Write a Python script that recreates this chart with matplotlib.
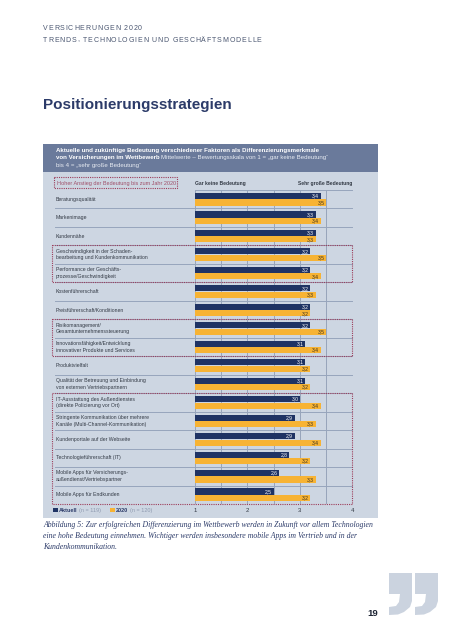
import matplotlib
matplotlib.use("Agg")
import matplotlib.pyplot as plt
from matplotlib.patches import Rectangle, Polygon
import numpy as np

# ---------------- data ----------------
categories = [
    "Beratungsqualität",
    "Markenimage",
    "Kundennähe",
    "Geschwindigkeit in der Schaden-\nbearbeitung und Kundenkommunikation",
    "Performance der Geschäfts-\nprozesse/Geschwindigkeit",
    "Kostenführerschaft",
    "Preisführerschaft/Konditionen",
    "Risikomanagement/\nGesamtunternehmenssteuerung",
    "Innovationsfähigkeit/Entwicklung\ninnovativer Produkte und Services",
    "Produktvielfalt",
    "Qualität der Betreuung und Einbindung\nvon externen Vertriebspartnern",
    "IT-Ausstattung des Außendienstes\n(direkte Policierung vor Ort)",
    "Stringente Kommunikation über mehrere\nKanäle (Multi-Channel-Kommunikation)",
    "Kundenportale auf der Webseite",
    "Technologieführerschaft (IT)",
    "Mobile Apps für Versicherungs-\naußendienst/Vertriebspartner",
    "Mobile Apps für Endkunden",
]
aktuell = [3.4, 3.3, 3.3, 3.2, 3.2, 3.2, 3.2, 3.2, 3.1, 3.1, 3.1, 3.0, 2.9, 2.9, 2.8, 2.6, 2.5]
jahr2020 = [3.5, 3.4, 3.3, 3.5, 3.4, 3.3, 3.2, 3.5, 3.4, 3.2, 3.2, 3.4, 3.3, 3.4, 3.2, 3.3, 3.2]
highlight_groups = [(3, 4), (7, 8), (11, 16)]   # row index ranges (inclusive)
x_ticks = [1, 2, 3, 4]
legend_labels = ["Aktuell", "2020"]
legend_n = ["(n = 119)", "(n = 120)"]

# ---------------- styling ----------------
W, H = 453, 640
NAVY = "#1f3364"
YELLOW = "#f7b334"
PANEL = "#cdd6e2"
HEADER = "#6a7a9b"
TITLE = "#2c3b69"
GRID = "#8e9cb4"
SEP = "#97a5bc"
DOT = "#9c3d5a"
TXT = "#333a45"
FONT = "Liberation Sans"

fig = plt.figure(figsize=(W / 100, H / 100), dpi=100)
page = fig.add_axes([0, 0, 1, 1])
page.set_xlim(0, W)
page.set_ylim(H, 0)
page.axis("off")


def px_ax(x0, y0, x1, y1):
    return [x0 / W, 1 - y1 / H, (x1 - x0) / W, (y1 - y0) / H]


renderer = fig.canvas.get_renderer()


def spaced(x, y, s, size, spacing, color, weight="normal"):
    for ch in s:
        t = page.text(x, y, ch, fontsize=size, color=color, family=FONT,
                      weight=weight, va="baseline", ha="left")
        if ch == " ":
            w = size * 100 / 72 * 0.28
        else:
            bb = t.get_window_extent(renderer)
            w = bb.width
        x += w + spacing


# page header
spaced(43, 29.5, "VERSICHERUNGEN 2020", 5.0, 0.8, "#4a5670")
spaced(43, 41.5, "TRENDS, TECHNOLOGIEN UND GESCHÄFTSMODELLE", 5.0, 0.8, "#4a5670")
page.text(42.5, 109, "Positionierungsstrategien", fontsize=11.0, weight="bold",
          color=TITLE, family=FONT, va="baseline")

# chart header box and panel
page.add_patch(Rectangle((43, 144), 335, 28, color=HEADER, lw=0))
page.add_patch(Rectangle((43, 172), 335, 346, color=PANEL, lw=0))

hs = 4.4
page.text(56, 152, "Aktuelle und zukünftige Bedeutung verschiedener Faktoren als Differenzierungsmerkmale",
          fontsize=hs, weight="bold", color="white", family=FONT, va="baseline")
t1 = page.text(56, 159.5, "von Versicherungen im Wettbewerb", fontsize=hs, weight="bold",
               color="white", family=FONT, va="baseline")
bb = t1.get_window_extent(renderer)
page.text(56 + bb.width + 1.5, 159.5,
          "Mittelwerte – Bewertungsskala von 1 = „gar keine Bedeutung“",
          fontsize=hs, color="#e8ecf3", family=FONT, va="baseline")
page.text(56, 167, "bis 4 = „sehr große Bedeutung“", fontsize=hs, color="#e8ecf3",
          family=FONT, va="baseline")

# "Hoher Anstieg" legend box
page.add_patch(Rectangle((54, 176.5), 123, 11.5, fill=False, ec=DOT, lw=0.8, ls=(0, (1, 1))))
page.text(57, 184.5, "Hoher Anstieg der Bedeutung bis zum Jahr 2020", fontsize=3.95,
          color="#a0506a", family=FONT, va="baseline")

# ---------------- bar axes ----------------
n = len(categories)
ax = fig.add_axes(px_ax(195, 190, 352.3, 504))
ax.set_xlim(1, 4)
ax.set_ylim(n - 0.5, -0.5)
ax.axis("off")

y = np.arange(n)
bh = 0.33
ax.barh(y - bh / 2 - 0.01, np.array(aktuell) - 1, left=1, height=bh, color=NAVY, zorder=3)
ax.barh(y + bh / 2 + 0.01, np.array(jahr2020) - 1, left=1, height=bh, color=YELLOW, zorder=3)

for i in range(n):
    ax.text(aktuell[i] - 0.03, i - bh / 2 - 0.01, f"{aktuell[i]:.1f}".replace(".", ","),
            ha="right", va="center", fontsize=3.6, color="white", family=FONT, zorder=4)
    ax.text(jahr2020[i] - 0.03, i + bh / 2 + 0.01, f"{jahr2020[i]:.1f}".replace(".", ","),
            ha="right", va="center", fontsize=3.6, color="#3a3020", family=FONT, zorder=4)

# grid lines
for gx in np.arange(1, 4.01, 0.5):
    ax.axvline(gx, color=GRID, lw=0.6, zorder=1)
# row separators (extend to labels)
left_frac = (55 - 195) / (352.3 - 195)
for i in range(1, n):
    ax.axhline(i - 0.5, xmin=left_frac, xmax=1, color=SEP, lw=0.7, clip_on=False, zorder=1)
ax.axhline(-0.5, xmin=0, xmax=1, color=SEP, lw=0.7, clip_on=False)

# row labels
lab_x = 1 + (56 - 195) / ((352.3 - 195) / 3)
for i, c in enumerate(categories):
    ax.text(lab_x, i, c, ha="left", va="center", fontsize=3.7, color=TXT,
            family=FONT, linespacing=1.4, clip_on=False)

# dotted highlight boxes
box_x0 = 1 + (52 - 195) / ((352.3 - 195) / 3)
for a, b in highlight_groups:
    ax.add_patch(Rectangle((box_x0, a - 0.5), 4 - box_x0, b - a + 1, fill=False, ec=DOT,
                           lw=0.8, ls=(0, (1, 1)), clip_on=False, zorder=5))

# scale header
page.text(195, 185, "Gar keine Bedeutung", fontsize=3.6, weight="bold", color=TXT,
          family=FONT, va="baseline")
page.text(352, 185, "Sehr große Bedeutung", fontsize=3.6, weight="bold", color=TXT,
          family=FONT, va="baseline", ha="right")

# x tick labels
for xt in x_ticks:
    ax.text(xt, n - 0.5 + 0.35, str(xt), ha="center", va="center", fontsize=4.3,
            color=TXT, family=FONT, clip_on=False)

# bottom legend
page.add_patch(Rectangle((53, 507.5), 4.5, 4.5, color=NAVY, lw=0))
t = page.text(59, 512, legend_labels[0], fontsize=4.0, weight="bold", color=TITLE,
              family=FONT, va="baseline")
bb = t.get_window_extent(renderer)
page.text(59 + bb.width + 1.5, 512, legend_n[0], fontsize=4.0, color="#8f9ab0",
          family=FONT, va="baseline")
page.add_patch(Rectangle((110, 507.5), 4.5, 4.5, color=YELLOW, lw=0))
t = page.text(116, 512, legend_labels[1], fontsize=4.0, weight="bold", color=TITLE,
              family=FONT, va="baseline")
bb = t.get_window_extent(renderer)
page.text(116 + bb.width + 1.5, 512, legend_n[1], fontsize=4.0, color="#8f9ab0",
          family=FONT, va="baseline")

# caption
cap = ["Abbildung 5: Zur erfolgreichen Differenzierung im Wettbewerb werden in Zukunft vor allem Technologien",
       "eine hohe Bedeutung einnehmen. Wichtiger werden insbesondere mobile Apps im Vertrieb und in der",
       "Kundenkommunikation."]
for k, line in enumerate(cap):
    page.text(43, 527 + k * 11.2, line, fontsize=5.6, style="italic", color=TITLE,
              family="Liberation Serif", va="baseline")

# quote mark graphic
QC = "#cbd3df"
for x0 in (389, 415):
    w = 23
    pts = [(x0, 573), (x0 + w, 573), (x0 + w, 601), (x0 + w - 2, 607), (x0 + w - 8, 612),
           (x0 + w - 14, 614.5), (x0, 615), (x0, 607), (x0 + 7, 606), (x0 + 10, 602),
           (x0 + 11, 594), (x0, 594)]
    page.add_patch(Polygon(pts, closed=True, color=QC, lw=0))

page.text(378, 616, "19", fontsize=6.8, weight="bold", color="#1c2333", family=FONT,
          ha="right", va="baseline")

fig.savefig("out.png", dpi=100)
